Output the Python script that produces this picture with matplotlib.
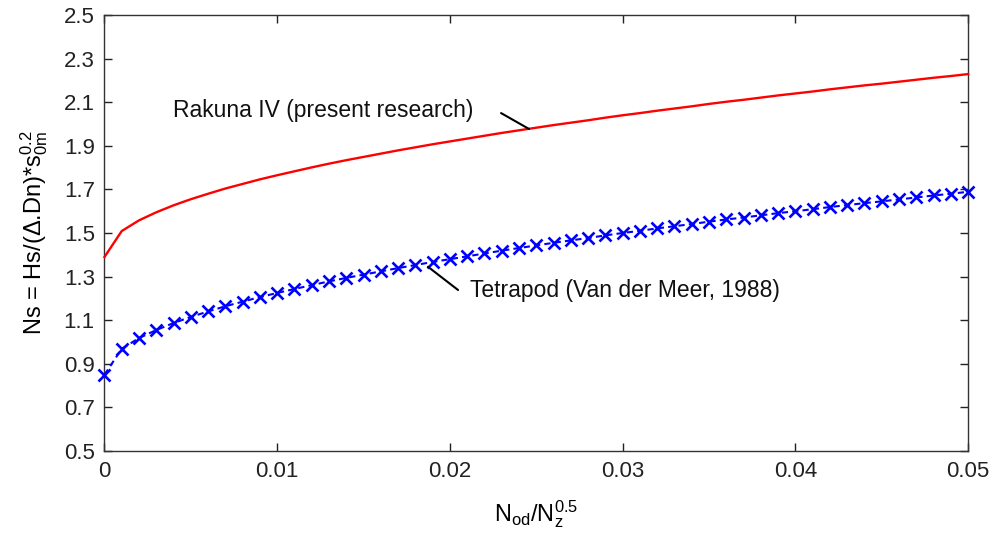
import matplotlib
matplotlib.use("Agg")
import matplotlib.pyplot as plt

plt.rcParams['font.family'] = ['Liberation Sans', 'DejaVu Sans']
plt.rcParams['mathtext.fontset'] = 'custom'
plt.rcParams['mathtext.rm'] = 'Liberation Sans'
plt.rcParams['mathtext.it'] = 'Liberation Sans'
plt.rcParams['mathtext.default'] = 'regular'

x_vals = [0.000, 0.001, 0.002, 0.003, 0.004, 0.005, 0.006, 0.007, 0.008, 0.009,
          0.010, 0.011, 0.012, 0.013, 0.014, 0.015, 0.016, 0.017, 0.018, 0.019,
          0.020, 0.021, 0.022, 0.023, 0.024, 0.025, 0.026, 0.027, 0.028, 0.029,
          0.030, 0.031, 0.032, 0.033, 0.034, 0.035, 0.036, 0.037, 0.038, 0.039,
          0.040, 0.041, 0.042, 0.043, 0.044, 0.045, 0.046, 0.047, 0.048, 0.049,
          0.050]

rakuna = [1.390, 1.509, 1.558, 1.595, 1.627, 1.655, 1.680, 1.704, 1.725, 1.746,
          1.765, 1.783, 1.801, 1.818, 1.834, 1.849, 1.864, 1.879, 1.893, 1.907,
          1.920, 1.933, 1.946, 1.959, 1.971, 1.983, 1.995, 2.006, 2.017, 2.029,
          2.040, 2.050, 2.061, 2.071, 2.081, 2.092, 2.102, 2.111, 2.121, 2.131,
          2.140, 2.149, 2.159, 2.168, 2.177, 2.185, 2.194, 2.203, 2.212, 2.220,
          2.229]

tetrapod = [0.850, 0.969, 1.018, 1.055, 1.087, 1.115, 1.140, 1.164, 1.185, 1.206,
            1.225, 1.243, 1.261, 1.278, 1.294, 1.309, 1.324, 1.339, 1.353, 1.367,
            1.380, 1.393, 1.406, 1.419, 1.431, 1.443, 1.455, 1.466, 1.477, 1.489,
            1.500, 1.510, 1.521, 1.531, 1.541, 1.552, 1.562, 1.571, 1.581, 1.591,
            1.600, 1.609, 1.619, 1.628, 1.637, 1.645, 1.654, 1.663, 1.672, 1.680,
            1.689]

x_ticks = [0, 0.01, 0.02, 0.03, 0.04, 0.05]
x_ticklabels = ['0', '0.01', '0.02', '0.03', '0.04', '0.05']
y_ticks = [0.5, 0.7, 0.9, 1.1, 1.3, 1.5, 1.7, 1.9, 2.1, 2.3, 2.5]
y_ticklabels = ['0.5', '0.7', '0.9', '1.1', '1.3', '1.5', '1.7', '1.9', '2.1', '2.3', '2.5']

label_rakuna = 'Rakuna IV (present research)'
label_tetrapod = 'Tetrapod (Van der Meer, 1988)'

fig = plt.figure(figsize=(9.95, 5.35), dpi=100)
ax = fig.add_axes([0.105, 0.157, 0.868, 0.815])

ax.plot(x_vals, rakuna, color=(1, 0, 0), lw=1.7, clip_on=False, zorder=3)
ax.plot(x_vals, tetrapod, color=(0, 0, 1), lw=1.5, ls=(0, (3, 2)), marker='x',
        markersize=8.5, markeredgewidth=1.9, clip_on=False, zorder=3)

ax.set_xlim(0, 0.05)
ax.set_ylim(0.5, 2.5)
ax.set_xticks(x_ticks)
ax.set_xticklabels(x_ticklabels)
ax.set_yticks(y_ticks)
ax.set_yticklabels(y_ticklabels)
ax.tick_params(direction='in', top=True, right=True, length=6, width=1,
               labelsize=16, colors='#222222', pad=7)
for s in ax.spines.values():
    s.set_linewidth(1.0)
    s.set_color('#333333')

ax.set_xlabel(r'N$_{od}$/N$_{z}^{0.5}$', fontsize=17, labelpad=12)
ax.set_ylabel(r'Ns = Hs/($\Delta$.Dn)*s$_{0m}^{0.2}$', fontsize=17, labelpad=10)

# annotations
ax.text(0.00397, 2.062, label_rakuna, fontsize=16.5, va='center', ha='left',
        color='#111111')
ax.annotate('', xy=(0.02458, 1.977), xytext=(0.02296, 2.050),
            arrowprops=dict(arrowstyle='-', color='black', lw=1.5,
                            shrinkA=0, shrinkB=0))
ax.text(0.02116, 1.238, label_tetrapod, fontsize=16.5, va='center', ha='left',
        color='#111111')
ax.annotate('', xy=(0.01873, 1.345), xytext=(0.02047, 1.2385),
            arrowprops=dict(arrowstyle='-', color='black', lw=1.5,
                            shrinkA=0, shrinkB=0))

fig.savefig('out.png', dpi=100, facecolor='white')
